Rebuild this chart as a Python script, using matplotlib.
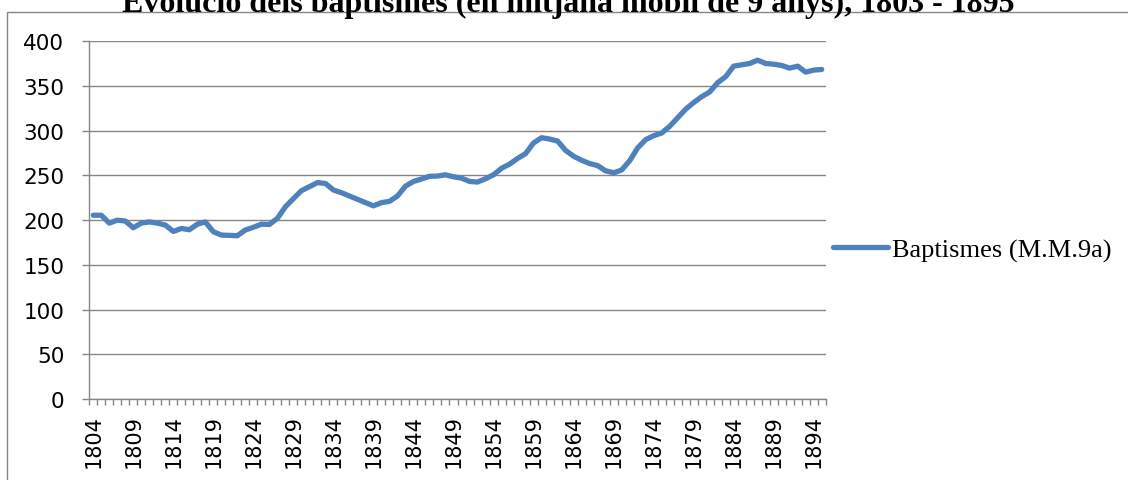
import matplotlib
matplotlib.use("Agg")
import matplotlib.pyplot as plt
import numpy as np
from matplotlib.patches import Rectangle
from matplotlib.ticker import FixedLocator, NullFormatter

plt.rcParams.update({
    "font.family": "DejaVu Sans",
    "font.size": 15,
})

# categories (one per year) and moving-average values
years = list(range(1804, 1896))
baptismes = [
    205.5, 205.5, 196.7, 200.0, 199.0, 191.5, 196.7, 198.0, 196.7, 194.5,
    187.4, 190.7, 189.3, 195.5, 198.0, 187.0, 183.3, 183.0, 182.6, 189.0,
    192.0, 195.5, 195.2, 202.0, 215.0, 224.0, 233.0, 237.4, 242.0, 241.0,
    233.7, 230.7, 227.0, 223.3, 219.6, 216.0, 219.6, 221.0, 227.0, 238.0,
    243.3, 246.0, 249.0, 249.3, 250.7, 248.5, 247.0, 243.3, 242.6, 246.3,
    250.7, 258.0, 262.6, 269.0, 274.4, 286.3, 292.2, 290.7, 288.5, 278.0,
    271.5, 267.0, 263.3, 261.0, 255.2, 253.0, 256.0, 266.3, 280.7, 290.0,
    294.4, 297.4, 304.8, 314.4, 324.0, 331.5, 338.0, 343.3, 353.7, 360.4,
    372.2, 373.7, 375.2, 378.9, 375.2, 374.4, 373.0, 370.0, 372.2, 365.5,
    367.8, 368.5,
]
label_years = years[::5]

title = "Evolució dels baptismes (en mitjana mòbil de 9 anys), 1803 - 1895"
series_name = "Baptismes (M.M.9a)"

W, H = 1128, 481
fig = plt.figure(figsize=(W / 100, H / 100), dpi=100)
ax = fig.add_axes([89.3 / W, 1 - 400 / H, (825.7 - 89.3) / W, (400 - 42.3) / H])

grey = "#868686"
blue = "#4F81BD"

x = np.arange(len(years))
ax.plot(x, baptismes, color=blue, linewidth=3.8, solid_capstyle="round",
        solid_joinstyle="round", label=series_name, zorder=3)

ax.set_xlim(-0.5, len(years) - 0.5)
ax.set_ylim(0, 400)
ax.set_yticks(np.arange(0, 401, 50))
ax.yaxis.grid(True, color=grey, linewidth=1.0)
ax.set_axisbelow(True)

# category labels every 5 years, tick marks between categories
ax.xaxis.set_major_locator(FixedLocator([years.index(y) for y in label_years]))
ax.set_xticklabels([str(y) for y in label_years], rotation=90)
ax.xaxis.set_minor_locator(FixedLocator(np.arange(-0.5, len(years), 1.0)))
ax.xaxis.set_minor_formatter(NullFormatter())
ax.tick_params(axis="x", which="major", length=0, pad=11, labelsize=15)
ax.tick_params(axis="x", which="minor", length=4.3, width=1.0, color=grey)
ax.tick_params(axis="y", which="major", length=5, width=1.0, color=grey,
               pad=13, labelsize=15.5)

for s in ["top", "right"]:
    ax.spines[s].set_visible(False)
for s in ["left", "bottom"]:
    ax.spines[s].set_color(grey)
    ax.spines[s].set_linewidth(1.0)

leg = fig.legend(loc="center left", bbox_to_anchor=(833 / W, 1 - 251 / H),
                 frameon=False, borderpad=0, borderaxespad=0,
                 handlelength=2.1, handletextpad=0.12,
                 prop={"family": "Liberation Serif", "size": 19})
for line in leg.get_lines():
    line.set_solid_capstyle("round")

fig.text(568 / W, 1 - 12 / H, title, ha="center", va="baseline",
         family="Liberation Serif", weight="bold", fontsize=23)

# chart area border (cut by the image edges on the right and bottom)
fig.patches.append(Rectangle((7 / W, -0.1), 2, 1.1 - 13 / H,
                             transform=fig.transFigure, fill=False,
                             edgecolor=grey, linewidth=1.0))

fig.savefig("out.png", dpi=100)
